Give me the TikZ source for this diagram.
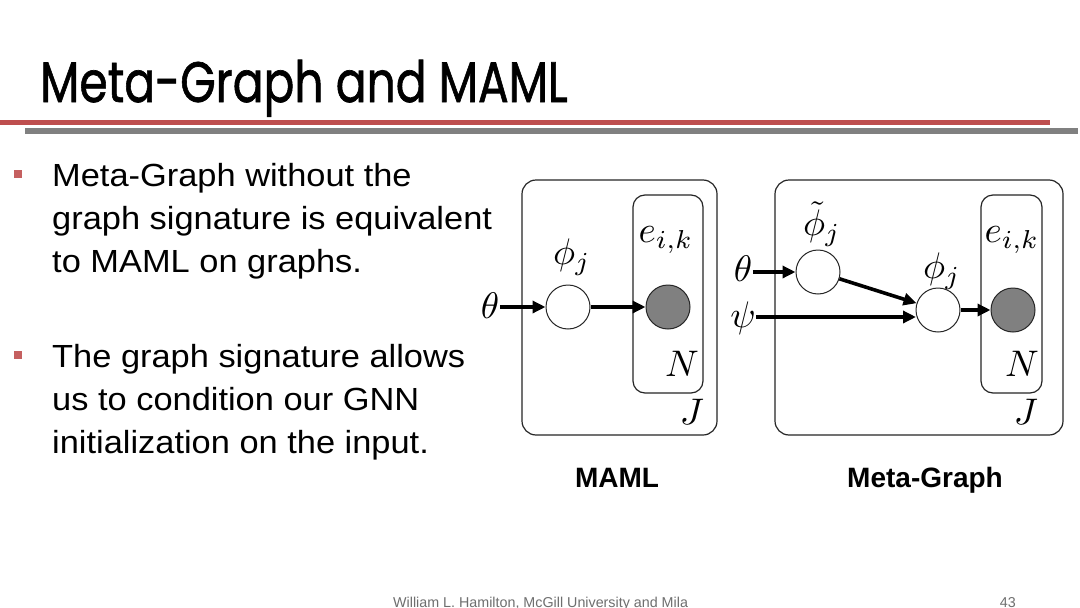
\documentclass[tikz,border=0pt]{standalone}
\usepackage{fontspec}
\setmainfont{Liberation Sans}
\newfontfamily\titlefont[FakeBold=1.2]{Poppins}
\usetikzlibrary{arrows.meta}
\definecolor{barred}{RGB}{190,78,78}
\definecolor{bargray}{RGB}{128,128,128}
\definecolor{obsgray}{RGB}{128,128,128}
\definecolor{footgray}{RGB}{110,110,110}
\begin{document}
\begin{tikzpicture}[x=1pt,y=-1pt,
  plate/.style={draw=black!85, line width=1.2pt, rounded corners=14pt},
  latent/.style={circle, draw=black!85, line width=1pt, fill=white, minimum size=44pt, inner sep=0pt},
  obs/.style={latent, fill=obsgray},
  arr/.style={line width=3.6pt, -{Triangle[length=13pt,width=12pt]}},
  lbl/.style={inner sep=0pt, scale=3.7, font=\normalsize},
  bul/.style={anchor=base west, inner sep=0pt, xscale=1.075, font=\fontsize{32}{32}\selectfont},
  captext/.style={anchor=base, inner sep=0pt, font=\fontsize{28}{28}\selectfont\bfseries},
  bsq/.style={fill=barred!90!white, minimum size=8pt, inner sep=0pt}]
\useasboundingbox (0,0) rectangle (1080,608);
\fill[white] (0,0) rectangle (1080,608);
% title
\node[anchor=base west, inner sep=0pt, font=\fontsize{57}{57}\selectfont\titlefont, xscale=0.8] (title) at (40,102) {Meta-Graph and MAML};
\fill[barred] (0,120) rectangle (1050,125);
\fill[bargray] (25,128) rectangle (1078,134);
% bullets
\node[bsq] (b1) at (18,174) {};
\node[bsq] (b2) at (18,355) {};
\node[bul] (t1a) at (52,186) {Meta-Graph without the};
\node[bul] (t1b) at (52,229) {graph signature is equivalent};
\node[bul] (t1c) at (52,272) {to MAML on graphs.};
\node[bul] (t2a) at (52,367) {The graph signature allows};
\node[bul] (t2b) at (52,410) {us to condition our GNN};
\node[bul] (t2c) at (52,453) {initialization on the input.};
% MAML diagram
\draw[plate] (522,180) rectangle (717,435);
\draw[plate, rounded corners=12pt] (633,195) rectangle (703,393);
\node[latent] (phiA) at (568,307) {};
\node[obs] (eA) at (668,307) {};
\node[lbl] (thA) at (490,306) {$\theta$};
\node[lbl] (phiAl) at (572,257) {$\phi_j$};
\node[lbl] (eAl) at (666,240) {$e_{i,k}$};
\node[lbl] (NA) at (682,364) {$N$};
\node[lbl] (JA) at (692,412) {$J$};
\draw[arr] (thA.east |- phiA) -- (phiA.west);
\draw[arr] (phiA.east) -- (eA.west);
\node[captext] (capA) at (617,487) {MAML};
% Meta-Graph diagram
\draw[plate] (775,180) rectangle (1063,435);
\draw[plate, rounded corners=12pt] (981,195) rectangle (1042,393);
\node[latent] (tphi) at (818,272) {};
\node[latent] (phiB) at (938,310) {};
\node[obs] (eB) at (1013,310) {};
\node[lbl] (thB) at (743,269) {$\theta$};
\node[lbl] (psB) at (743,318) {$\psi$};
\node[lbl] (tphil) at (822,224) {$\tilde{\phi}_j$};
\node[lbl] (phiBl) at (942,271) {$\phi_j$};
\node[lbl] (eBl) at (1012,240) {$e_{i,k}$};
\node[lbl] (NB) at (1022,364) {$N$};
\node[lbl] (JB) at (1026,412) {$J$};
\coordinate (psEnd) at (916,317);
\draw[arr] (thB.east |- tphi) -- (tphi.west);
\draw[arr] (tphi) -- (phiB);
\draw[arr] (psB.east |- psEnd) -- (psEnd);
\draw[arr] (phiB.east) -- (eB.west);
\node[captext] (capB) at (925,487) {Meta-Graph};
% footer
\node[anchor=base west, inner sep=0pt, text=footgray, font=\fontsize{14.3}{14.3}\selectfont] (foot) at (393,607) {William L. Hamilton, McGill University and Mila};
\node[anchor=base east, inner sep=0pt, text=footgray, font=\fontsize{14.3}{14.3}\selectfont] (pg) at (1016,607) {43};
\end{tikzpicture}
\end{document}
